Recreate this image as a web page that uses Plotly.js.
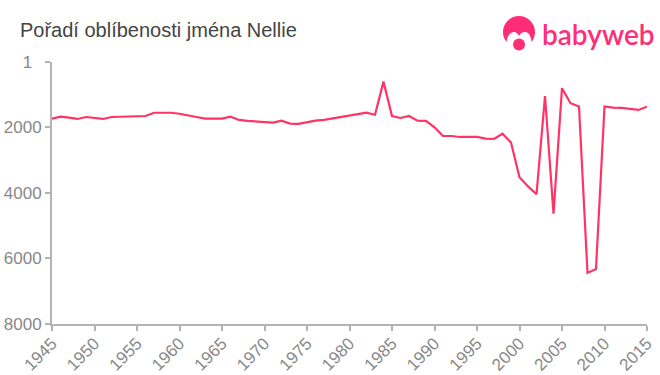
<!DOCTYPE html>
<html><head><meta charset="utf-8">
<script src="https://cdn.plot.ly/plotly-3.0.1.min.js"></script>
<style>html,body{margin:0;padding:0;background:#fff}#c{width:660px;height:375px}</style>
</head><body><div id="c"></div>
<script>
const years = [1945,1946,1947,1948,1949,1950,1951,1952,1953,1954,1955,1956,1957,1958,1959,1960,1961,1962,1963,1964,1965,1966,1967,1968,1969,1970,1971,1972,1973,1974,1975,1976,1977,1978,1979,1980,1981,1982,1983,1984,1985,1986,1987,1988,1989,1990,1991,1992,1993,1994,1995,1996,1997,1998,1999,2000,2001,2002,2003,2004,2005,2006,2007,2008,2009,2010,2011,2012,2013,2014,2015];
const ranks = [1730,1670,1700,1740,1680,1710,1740,1680,1670,1650,1650,1650,1550,1550,1550,1580,1620,1680,1730,1730,1730,1670,1770,1800,1820,1830,1850,1790,1880,1890,1840,1790,1770,1730,1690,1640,1600,1550,1610,600,1650,1710,1650,1790,1800,1995,2260,2260,2290,2290,2290,2340,2350,2190,2460,3520,3800,4040,1040,4630,800,1260,1360,6440,6320,1360,1395,1400,1425,1465,1365];
const yTicks = [1,2000,4000,6000,8000];
const yTickLabels = ['1\u00a0\u00a0','2000','4000','6000','8000'];
const xTicks = [1945,1950,1955,1960,1965,1970,1975,1980,1985,1990,1995,2000,2005,2010,2015];
const titleText = 'Pořadí oblíbenosti jména Nellie';
const brandText = 'babyweb';
const pink = '#ff2d78';
const lineColor = '#ff3366';
const W=660,H=375,L=52,R=13,T=62,B=51;
const px = x => (x-L)/(W-L-R), py = y => 1-(y-T)/(H-T-B);
const circle = (cx,cy,r,fill) => ({type:'circle',xref:'paper',yref:'paper',x0:px(cx-r),x1:px(cx+r),y0:py(cy+r),y1:py(cy-r),fillcolor:fill,line:{width:0},layer:'above'});
const P = (x,y)=>px(x)+','+py(y);
const face = {type:'path',xref:'paper',yref:'paper',layer:'above',fillcolor:'#fff',line:{width:0},
  path:'M'+P(506,44)+' C'+P(507,36)+' '+P(510,32)+' '+P(514,32)+' C'+P(516,32)+' '+P(518,34)+' '+P(519,36)+' C'+P(520,34)+' '+P(522,32)+' '+P(525,32)+' C'+P(529,32)+' '+P(531,36)+' '+P(532,44)+' L'+P(537,50)+' L'+P(501,50)+' Z'};
Plotly.newPlot('c',[{x:years,y:ranks,type:'scatter',mode:'lines',line:{color:lineColor,width:2.2},hoverinfo:'skip'}],{
  width:W,height:H,margin:{l:L,r:R,t:T,b:B,pad:0},paper_bgcolor:'#fff',plot_bgcolor:'#fff',showlegend:false,
  title:{text:titleText,x:20/W,xanchor:'left',y:1-30/H,yanchor:'middle',font:{family:'Liberation Sans',size:20,color:'#444'}},
  xaxis:{range:[1945,2015],tickmode:'array',tickvals:xTicks,ticktext:xTicks.map(String),tickangle:-45,ticks:'outside',ticklen:5,tickwidth:2,tickcolor:'#b3b3b3',showline:true,linecolor:'#b3b3b3',linewidth:2,showgrid:false,zeroline:false,ticklabelstandoff:-4,tickfont:{family:'Liberation Sans',size:17,color:'#888'}},
  yaxis:{range:[8000,1],tickmode:'array',tickvals:yTicks,ticktext:yTickLabels,ticks:'outside',ticklen:5,tickwidth:2,tickcolor:'#b3b3b3',showline:true,linecolor:'#b3b3b3',linewidth:2,showgrid:false,zeroline:false,tickfont:{family:'Liberation Sans',size:17,color:'#888'}},
  shapes:[circle(519,32,16,pink),face,circle(519,44.5,6,pink)],
  annotations:[{xref:'paper',yref:'paper',x:px(540),y:py(34),xanchor:'left',yanchor:'middle',showarrow:false,text:brandText,font:{family:'Lato',size:28,weight:600,color:pink}}]
},{displayModeBar:false,staticPlot:true});
</script></body></html>
